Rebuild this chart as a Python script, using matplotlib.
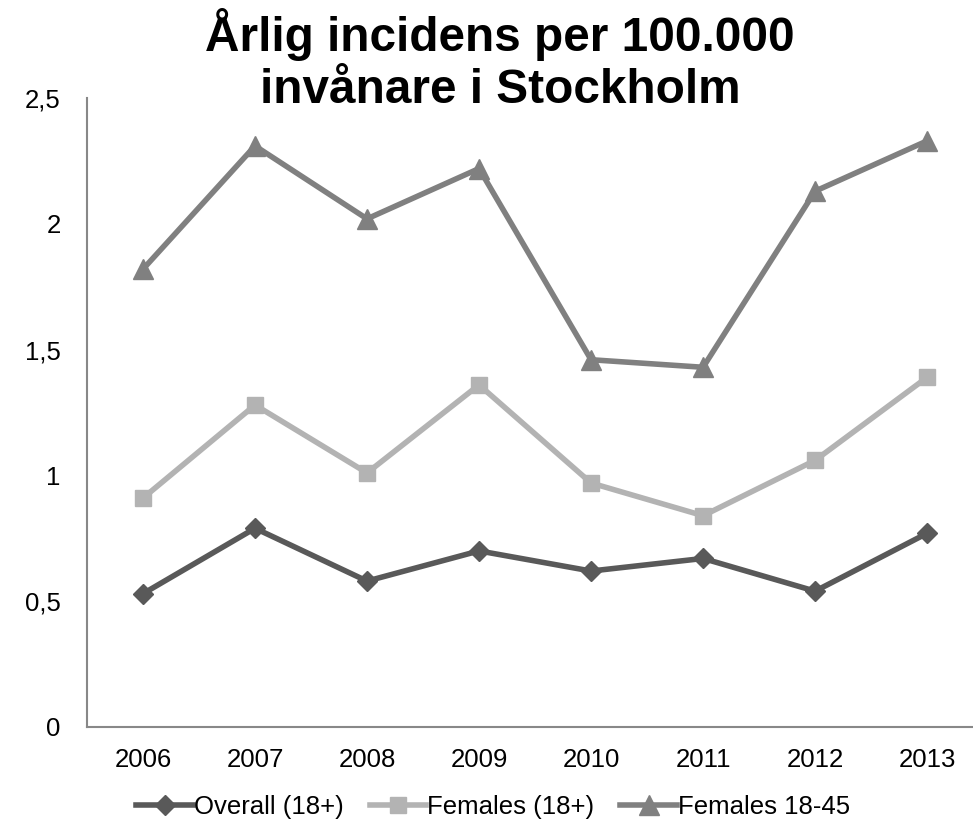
import matplotlib
matplotlib.use("Agg")
import matplotlib.pyplot as plt
from matplotlib.ticker import FuncFormatter

plt.rcParams['font.family'] = ['Liberation Sans', 'DejaVu Sans']

years = ["2006", "2007", "2008", "2009", "2010", "2011", "2012", "2013"]
overall = [0.53, 0.79, 0.58, 0.70, 0.62, 0.67, 0.54, 0.77]
females = [0.91, 1.28, 1.01, 1.36, 0.97, 0.84, 1.06, 1.39]
females_18_45 = [1.82, 2.31, 2.02, 2.22, 1.46, 1.43, 2.13, 2.33]
y_ticks = [0, 0.5, 1, 1.5, 2, 2.5]

fig = plt.figure(figsize=(9.73, 8.21), dpi=100)
ax = fig.add_axes([0.0894, 0.1145, 0.921, 0.766])

x = list(range(len(years)))
ax.plot(x, overall, color='#595959', lw=4, marker='D', ms=10,
        label='Overall (18+)', zorder=3)
ax.plot(x, females, color='#b3b3b3', lw=4, marker='s', ms=12,
        label='Females (18+)', zorder=3)
ax.plot(x, females_18_45, color='#808080', lw=4, marker='^', ms=14,
        label='Females 18-45', zorder=3)

ax.set_xlim(-0.5, len(years) - 0.5)
ax.set_ylim(0, 2.5)
ax.set_xticks(x)
ax.set_xticklabels(years)
ax.set_yticks(y_ticks)
ax.yaxis.set_major_formatter(FuncFormatter(lambda v, p: f"{v:g}".replace('.', ',')))
ax.tick_params(axis='both', length=0, labelsize=18.5, colors='black')
ax.tick_params(axis='y', pad=19)
ax.tick_params(axis='x', pad=15)
for side in ('top', 'right'):
    ax.spines[side].set_visible(False)
for side in ('left', 'bottom'):
    ax.spines[side].set_color('#888888')
    ax.spines[side].set_linewidth(1.5)

fig.text(0.514, 0.99, "Årlig incidens per 100.000\ninvånare i Stockholm",
         ha='center', va='top', fontsize=34.4, fontweight='bold', linespacing=1.2)

fig.legend(loc='center', bbox_to_anchor=(0.507, 0.017), ncol=3, frameon=False,
           fontsize=18.5, handlelength=2.2, handletextpad=0.05, columnspacing=1.0,
           borderpad=0)

fig.savefig("out.png", dpi=100, facecolor='white')
